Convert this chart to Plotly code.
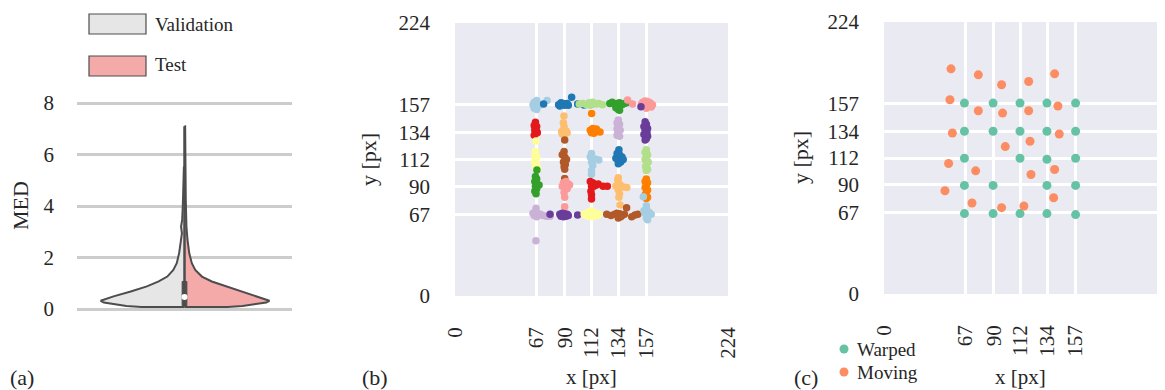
import plotly.graph_objects as go

W, H = 1165, 390
FONT = "Liberation Serif"
TXT = "#262626"

# ---------------- Panel (a): split violin of MED ----------------
med_ticks = [0, 2, 4, 6, 8]
val_y = [0.08, 0.12, 0.18, 0.25, 0.32, 0.49, 0.68, 0.88, 1.07, 1.26, 1.52, 1.78,
         2.17, 2.68, 2.94, 3.2, 3.46, 3.97, 4.75, 5.5]
val_w = [0.20, 0.27, 0.33, 0.375, 0.39, 0.33, 0.25, 0.175, 0.12, 0.08, 0.052, 0.036,
         0.025, 0.016, 0.012, 0.016, 0.011, 0.008, 0.006, 0.003]
test_y = [0.08, 0.12, 0.18, 0.25, 0.32, 0.49, 0.68, 0.88, 1.07, 1.26, 1.52, 1.78,
          2.17, 2.68, 3.2, 4.23, 5.5, 7.1]
test_w = [0.20, 0.27, 0.33, 0.38, 0.395, 0.336, 0.267, 0.197, 0.127, 0.081, 0.05, 0.034,
          0.022, 0.014, 0.009, 0.006, 0.005, 0.003]
box_q1, box_q3, box_med = 0.13, 1.07, 0.47
whisk_lo, whisk_hi = 0.08, 7.1
legend_a = ["Validation", "Test"]

# ---------------- Panel (b): predicted keypoints, 5x5 grid ----------------
grid_ticks = [0, 67, 90, 112, 134, 157, 224]

row157_x = [[65, 67, 68, 66, 69, 65, 67, 70, 64, 75.5],
            [85, 87, 89, 91, 93, 86, 90, 88, 92, 95.7, 100.6, 105.8, 72.7],
            [102, 105, 108, 110, 112, 114, 116, 118, 121, 111, 113],
            [127, 129, 131, 133, 135, 137, 139, 141, 133, 134, 132, 135],
            [154, 156, 158, 160, 162, 155, 159, 157, 161, 153, 141.6, 145.7]]
row157_y = [[159, 160.5, 158, 156, 156.5, 154, 153, 157, 157, 160.5],
            [157, 158.5, 158, 157.5, 156.5, 156, 156.5, 157, 158, 163, 157.5, 156.7, 157.5],
            [157.5, 158, 157, 158.5, 157, 158, 157.5, 158, 157, 156.5, 159],
            [158, 159, 157.5, 158, 158.5, 157, 158, 158.5, 155, 153, 154.5, 152.5],
            [159, 160, 159.5, 158.5, 157, 156, 156, 154, 155, 157.5, 160.8, 157.5]]

row134_x = [[66, 65, 67, 66, 65.5, 67, 66, 65, 67.5, 66],
            [89.4, 88.9, 89.5, 87.5, 89, 91, 92, 88, 90, 89.5],
            [111, 113, 115, 117, 119, 112, 114, 112.1, 116],
            [134, 133, 135, 134, 133, 135.5, 134, 133, 135],
            [156, 157, 155, 158, 156, 157.5, 155, 158, 157, 156, 152.6]]
row134_y = [[142.5, 140, 139, 137.5, 136, 135, 133.5, 132, 134, 138],
            [147.7, 142.2, 139, 135, 136, 135.5, 134, 133, 132.5, 134.5],
            [136, 137.5, 136.5, 135, 134.5, 134, 133.5, 149.8, 137],
            [144.5, 142, 141, 139, 137, 136, 134, 132, 131],
            [143, 141, 139, 137.5, 136, 134, 132.5, 131, 129, 128, 155.3]]

row112_x = [[66, 65.5, 67, 66, 65.5, 67, 66, 66.4, 68],
            [89.5, 88, 90, 91.5, 89, 90.5, 89.5, 90, 90, 90],
            [112, 111, 113, 115, 118, 112, 113, 112, 112],
            [134.5, 133, 135, 137, 138, 132, 134, 136, 134],
            [157, 156, 158, 157, 156, 158.5, 157, 156.5, 158, 157]]
row112_y = [[118.5, 116, 114, 112, 110, 108, 106.5, 127.2, 104],
            [118.5, 116, 114, 112, 110, 108, 106, 128, 104, 96.5],
            [117, 114, 112, 112.5, 111.5, 110, 107, 103, 100],
            [120, 117, 116, 114, 112, 113, 110.5, 110, 108.5],
            [120, 118, 116, 114, 112, 110, 108, 106, 104, 103]]

row90_x = [[66, 67, 65.5, 67, 69, 66, 67, 65.5, 66.5, 67.2],
           [89, 91, 93, 94, 88, 90, 92, 89.5, 90, 90],
           [111, 113, 112, 114, 116, 117.5, 121.5, 125, 111.5, 112, 112],
           [134, 133.5, 135, 132, 134, 136, 138, 141, 134, 135, 134.5, 135.4],
           [157, 156, 158, 157, 156, 158, 157, 156, 158, 157]]
row90_y = [[98, 96, 94, 92, 91, 90, 88, 86, 84, 103.4],
           [93, 94, 92, 91, 90, 89, 88, 85, 81, 73.3],
           [94, 93, 90, 90, 91, 92, 90, 90, 86, 83, 79.5],
           [97, 95, 92, 90, 90, 90.5, 89.5, 89, 87, 84, 81, 74.7],
           [96, 94, 93, 91, 89, 87, 85, 83, 81, 80]]

row67_x = [[64, 66, 68, 65, 67, 70, 72, 75, 78, 66.4, 66.5],
           [86, 88, 90, 92, 93, 87, 89, 91, 78, 100.6],
           [106, 108, 110, 112, 114, 116, 118, 109, 113, 117, 112],
           [124.5, 128, 131, 133, 135, 137, 139, 134, 136, 140.8, 147.7, 145, 150],
           [155, 157, 159, 161, 156, 158, 160, 157, 158, 154.5, 157]]
row67_y = [[68, 69, 67.5, 66, 65, 67, 66, 65.5, 65.5, 45.4, 72],
           [67, 68, 67.5, 67, 66, 65.5, 65, 65.5, 67, 66.4],
           [67, 68, 69, 68, 67.5, 68, 67, 65.5, 65, 66, 70],
           [67, 66, 67, 68, 67.5, 66, 67, 64, 65, 72.5, 66.4, 65, 67],
           [70, 71, 69, 67, 68, 66, 67.5, 64, 62.5, 81.5, 74]]

PAIRED = ['#a6cee3', '#1f78b4', '#b2df8a', '#33a02c', '#fb9a99', '#e31a1c',
          '#fdbf6f', '#ff7f00', '#cab2d6', '#6a3d9a', '#ffff99', '#b15928']

# ---------------- Panel (c): warped vs moving ----------------
warped_x = [66, 89.5, 111.6, 133.7, 157.2,
            66, 89.5, 111.6, 133.7, 157.2,
            66, 111.6, 133.7, 157.2,
            66, 89.5, 133.7, 157.2,
            66, 89.5, 111.6, 133.7, 157.2]
warped_y = [157.2, 157.2, 157.2, 157.2, 157.2,
            134.0, 134.0, 134.0, 134.0, 134.0,
            111.8, 111.8, 111.0, 111.8,
            89.4, 89.4, 89.4, 89.4,
            66.2, 66.2, 66.2, 66.2, 65.4]
moving_x = [55.0, 77.4, 96.5, 118.7, 140.0, 54.1, 77.4, 97.3, 118.7, 142.7, 56.1, 143.8,
            119.8, 99.5, 53.0, 75.2, 120.6, 140.0, 50.0, 72.2, 96.5, 114.8, 139.2]
moving_y = [185.4, 180.5, 172.3, 175.0, 181.3, 160.0, 150.9, 149.0, 150.9, 154.8, 132.6, 131.8,
            125.8, 121.4, 107.5, 101.4, 98.4, 102.5, 85.0, 74.9, 71.1, 72.5, 79.3]
legend_c = ["Warped", "Moving"]
WARPED_C, MOVING_C = "#66c2a5", "#fc8d62"

# ======================================================================
fig = go.Figure()

# violin halves
outline = dict(color="#4d4d4d", width=2)
fig.add_trace(go.Scatter(
    x=[0] + [-w for w in val_w] + [0], y=[val_y[0]] + val_y + [val_y[-1]],
    fill="toself", fillcolor="#e6e6e6", line=outline, mode="lines",
    xaxis="x", yaxis="y", showlegend=False, hoverinfo="skip"))
fig.add_trace(go.Scatter(
    x=[0] + test_w + [0], y=[test_y[0]] + test_y + [test_y[-1]],
    fill="toself", fillcolor="#f4aaa9", line=outline, mode="lines",
    xaxis="x", yaxis="y", showlegend=False, hoverinfo="skip"))
fig.add_trace(go.Scatter(
    x=[0, 0], y=[whisk_lo, whisk_hi], mode="lines",
    line=dict(color="#4d4d4d", width=2.5), xaxis="x", yaxis="y",
    showlegend=False, hoverinfo="skip"))
fig.add_trace(go.Scatter(
    x=[-0.011, 0.011, 0.011, -0.011, -0.011],
    y=[box_q1, box_q1, box_q3, box_q3, box_q1],
    fill="toself", fillcolor="#4d4d4d", mode="lines",
    line=dict(color="#4d4d4d", width=1), xaxis="x", yaxis="y",
    showlegend=False, hoverinfo="skip"))
fig.add_trace(go.Scatter(
    x=[0], y=[box_med], mode="markers",
    marker=dict(color="white", size=6, line=dict(width=0)),
    xaxis="x", yaxis="y", showlegend=False, hoverinfo="skip"))

# panel (b) clusters
rows_x = [row157_x, row134_x, row112_x, row90_x, row67_x]
rows_y = [row157_y, row134_y, row112_y, row90_y, row67_y]
k = 0
for rx, ry in zip(rows_x, rows_y):
    for cx, cy in zip(rx, ry):
        fig.add_trace(go.Scatter(
            x=cx, y=cy, mode="markers",
            marker=dict(color=PAIRED[k % 12], size=7.5, line=dict(width=0)),
            xaxis="x2", yaxis="y2", showlegend=False, hoverinfo="skip"))
        k += 1

# panel (c)
fig.add_trace(go.Scatter(x=warped_x, y=warped_y, mode="markers",
                         marker=dict(color=WARPED_C, size=9, line=dict(width=0)),
                         xaxis="x3", yaxis="y3", showlegend=False))
fig.add_trace(go.Scatter(x=moving_x, y=moving_y, mode="markers",
                         marker=dict(color=MOVING_C, size=9, line=dict(width=0)),
                         xaxis="x3", yaxis="y3", showlegend=False))

def px(x):
    return x / W

def py(y):
    return 1 - y / H

tickfont = dict(family=FONT, size=21, color=TXT)

dark_axis = dict(range=[0, 224], tickvals=grid_ticks, ticktext=[str(t) for t in grid_ticks],
                 showgrid=True, gridcolor="white", gridwidth=2.5, zeroline=False,
                 showline=False, ticks="", tickfont=tickfont, automargin=False)

fig.update_layout(
    width=W, height=H, margin=dict(l=0, r=0, t=0, b=0, autoexpand=False),
    paper_bgcolor="white", plot_bgcolor="white",
    font=dict(family=FONT, color=TXT),
    xaxis=dict(domain=[px(77), px(292)], range=[-0.5, 0.5], visible=False, anchor="y",
               automargin=False),
    yaxis=dict(domain=[py(314.15), py(97.85)], range=[-0.2, 8.2], tickvals=med_ticks,
               showgrid=True, gridcolor="#cccccc", gridwidth=2.5, zeroline=False,
               showline=False, ticks="", tickfont=tickfont, ticklabelstandoff=22,
               anchor="x", automargin=False),
    xaxis2=dict(domain=[px(455), px(728)], anchor="y2", tickangle=-90,
                ticklabelstandoff=26, **dark_axis),
    yaxis2=dict(domain=[py(296), py(23)], anchor="x2", ticklabelstandoff=24, **dark_axis),
    xaxis3=dict(domain=[px(884), px(1157)], anchor="y3", tickangle=-90,
                ticklabelstandoff=26, **dark_axis),
    yaxis3=dict(domain=[py(294), py(22)], anchor="x3", ticklabelstandoff=24, **dark_axis),
)

# dark backgrounds for panels b and c
for ax in ["x2", "x3"]:
    yax = "y2" if ax == "x2" else "y3"
    fig.add_shape(type="rect", xref=f"{ax} domain", yref=f"{yax} domain",
                  x0=0, x1=1, y0=0, y1=1, fillcolor="#eaeaf2",
                  line=dict(width=0), layer="below")

# panel (a) legend boxes
fig.add_shape(type="rect", xref="paper", yref="paper", x0=px(89), x1=px(146),
              y0=py(34), y1=py(14), fillcolor="#e6e6e6", line=dict(color="#4d4d4d", width=1.2))
fig.add_shape(type="rect", xref="paper", yref="paper", x0=px(89), x1=px(146),
              y0=py(76), y1=py(56), fillcolor="#f4aaa9", line=dict(color="#4d4d4d", width=1.2))

# panel (c) legend markers
for yy, col in [(349, WARPED_C), (372, MOVING_C)]:
    fig.add_shape(type="circle", xref="paper", yref="paper",
                  xsizemode="pixel", ysizemode="pixel",
                  xanchor=px(844), yanchor=py(yy), x0=-4.5, x1=4.5, y0=-4.5, y1=4.5,
                  fillcolor=col, line=dict(width=0))

def note(text, x, y, size, xanchor="center", angle=0):
    fig.add_annotation(text=text, x=px(x), y=py(y), xref="paper", yref="paper",
                       showarrow=False, xanchor=xanchor, yanchor="middle",
                       textangle=angle, font=dict(family=FONT, size=size, color=TXT))

note(legend_a[0], 153, 24, 19, "left")
note(legend_a[1], 153, 65, 19, "left")
note(legend_c[0], 855, 349, 19, "left")
note(legend_c[1], 855, 372, 19, "left")
note("MED", 20, 206, 22, angle=-90)
note("y [px]", 368, 160, 22, angle=-90)
note("y [px]", 800, 158, 22, angle=-90)
note("x [px]", 591.5, 376.5, 21)
note("x [px]", 1020.5, 376.5, 21)
note("(a)", 22, 377, 22)
note("(b)", 375, 377, 22)
note("(c)", 806, 377, 22)

fig.write_html("out.html", config={"displayModeBar": False},
               post_script="document.body.style.margin='0';document.body.style.overflow='hidden';")
